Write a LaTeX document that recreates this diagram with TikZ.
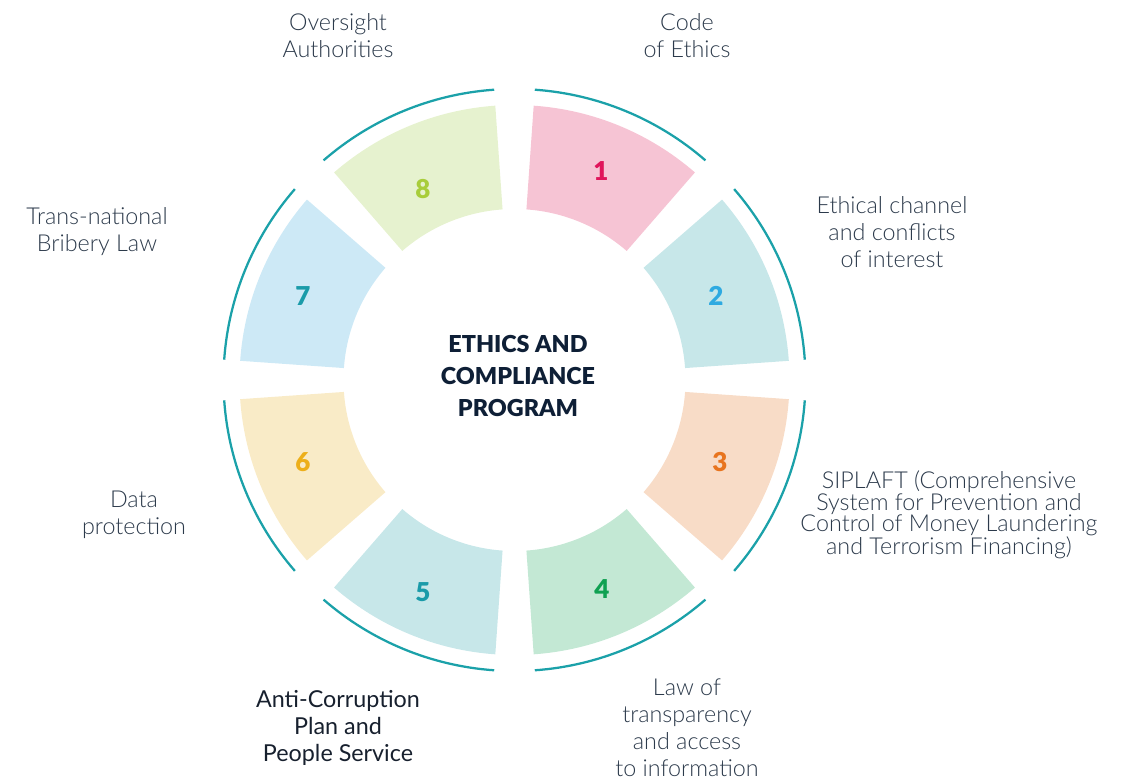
\documentclass[tikz,border=0pt]{standalone}
\usepackage{fontspec}
\setmainfont{Lato}
\newfontfamily\lightfont{Lato Light}
\newfontfamily\blackfont{Lato Black}
\usetikzlibrary{positioning}

\definecolor{pinkbg}{HTML}{F6C4D4}
\definecolor{tealbg}{HTML}{C7E7E9}
\definecolor{peachbg}{HTML}{F8DCC7}
\definecolor{mintbg}{HTML}{C3E8D4}
\definecolor{creambg}{HTML}{F9EBC7}
\definecolor{skybg}{HTML}{CDE9F6}
\definecolor{limebg}{HTML}{E6F2CF}
\definecolor{pinkfg}{HTML}{E0155B}
\definecolor{bluefg}{HTML}{2EAAE1}
\definecolor{orangefg}{HTML}{E8741E}
\definecolor{greenfg}{HTML}{10A152}
\definecolor{tealfg}{HTML}{1A9BA9}
\definecolor{goldfg}{HTML}{EDAF1A}
\definecolor{limefg}{HTML}{A8CD3B}
\definecolor{ringteal}{HTML}{1BA1A9}
\definecolor{labelgray}{HTML}{2C3A4B}
\definecolor{darknavy}{HTML}{17202E}
\definecolor{navy}{HTML}{0E1F36}

\begin{document}
\begin{tikzpicture}[x=0.75pt,y=0.75pt]
        \tikzstyle{every node}=[align=center, text=labelgray, font=\lightfont\fontsize{17.5}{20.25}\selectfont]
        \tikzstyle{number}=[font=\blackfont\fontsize{19.5}{20}\selectfont]
        \tikzstyle{ringline}=[draw=ringteal, line width=1.7pt]
        \useasboundingbox (-514.5,-401) rectangle (617.5,380);
        % ring of sectors, outer arcs and numbers
        \foreach \k/\fillc/\numc/\pos in {1/pinkbg/pinkfg/{(86.5,209)}, 2/tealbg/bluefg/{(201.5,84)},
                                          3/peachbg/orangefg/{(205.5,-82)}, 4/mintbg/greenfg/{(87.5,-209)},
                                          5/tealbg/tealfg/{(-91.5,-212)}, 6/creambg/goldfg/{(-211.5,-82)},
                                          7/skybg/tealfg/{(-211.5,84)}, 8/limebg/limefg/{(-91.5,191)}} {
            \pgfmathsetmacro{\angA}{94-45*\k}
            \pgfmathsetmacro{\angB}{131-45*\k}
            \fill[\fillc] (\angA:171) arc[start angle=\angA, end angle=\angB, radius=171]
                -- (\angB:275) arc[start angle=\angB, end angle=\angA, radius=275] -- cycle;
            \draw[ringline] (\angA:291) arc[start angle=\angA, end angle=\angB, radius=291];
            \node[number, text=\numc] (n\k) at \pos {\k};
        }
        \node[font=\blackfont\fontsize{17.5}{24}\selectfont, text=navy] (ethics) at (3.5,4) {ETHICS AND\\ COMPLIANCE\\ PROGRAM};
        % labels round the ring
        \node (oversight) at (-176.5,344) {Oversight\\ Authorities};
        \node (code) at (172.5,344) {Code\\ of Ethics};
        \node (channel) at (377.5,148) {Ethical channel\\ and conflicts\\ of interest};
        \node[font=\lightfont\fontsize{17.5}{16.1}\selectfont] (siplaft) at (434.5,-135) {SIPLAFT (Comprehensive\\ System for Prevention and\\ Control of Money Laundering\\ and Terrorism Financing)};
        \node (transparency) at (172.5,-348) {Law of\\ transparency\\ and access\\ to information};
        \node[font=\fontsize{17.5}{20.25}\selectfont, text=darknavy] (anticorruption) at (-176.5,-348) {Anti-Corruption\\ Plan and\\ People Service};
        \node (dataprot) at (-380.5,-135) {Data\\ protection};
        \node (bribery) at (-417.5,148) {Trans-national\\ Bribery Law};
      \end{tikzpicture}
\end{document}
